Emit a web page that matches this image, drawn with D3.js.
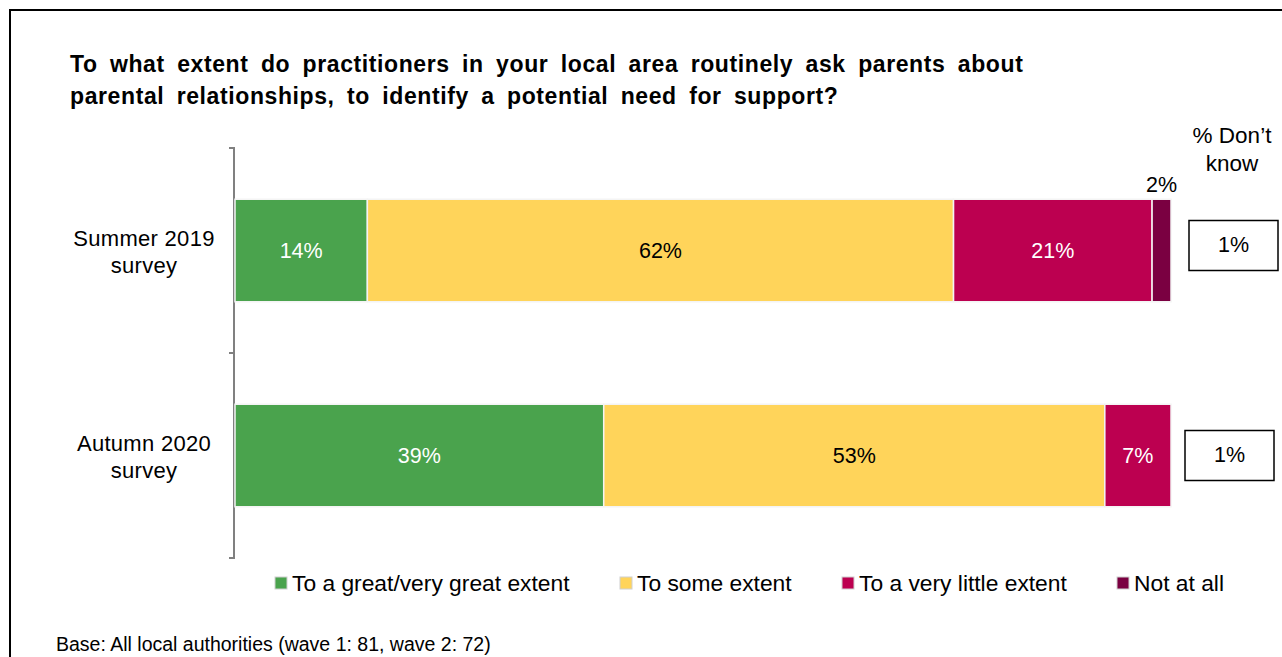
<!DOCTYPE html>
<html>
<head>
<meta charset="utf-8">
<script src="https://cdn.jsdelivr.net/npm/d3@7"></script>
<style>
  html, body { margin: 0; padding: 0; background: #fff; }
  svg { display: block; font-family: Arial, "Liberation Sans", sans-serif; }
</style>
</head>
<body>
<svg id="chart" width="1282" height="657"></svg>
<script>
// Survey waves (rows of the stacked bar)
const waves = ["Summer 2019 survey", "Autumn 2020 survey"];
const waveLines = [["Summer 2019", "survey"], ["Autumn 2020", "survey"]];

// Response categories, in stacking order
const responses = ["To a great/very great extent", "To some extent", "To a very little extent", "Not at all"];
const responseColors = ["#4aa34d", "#ffd45a", "#bc0050", "#7a0041"];
const labelColors = ["#fff", "#000", "#fff", "#000"];

// Percentages per wave, one array per response
const greatExtent = [14, 39];
const someExtent = [62, 53];
const veryLittle = [21, 7];
const notAtAll = [2, 0];

// Share answering "don't know", shown beside each bar
const dontKnow = [1, 1];

const title = [
  "To what extent do practitioners in your local area routinely ask parents about",
  "parental relationships, to identify a potential need for support?"
];
const baseNote = "Base: All local authorities (wave 1: 81, wave 2: 72)";

const svg = d3.select("#chart");

// Outer frame
svg.append("rect")
  .attr("x", 10).attr("y", 10)
  .attr("width", 1300).attr("height", 700)
  .attr("fill", "none").attr("stroke", "#000").attr("stroke-width", 2);

// Title
svg.append("g").selectAll("text").data(title).join("text")
  .attr("x", 70).attr("y", (d, i) => 72 + i * 32)
  .attr("font-size", 23).attr("font-weight", "bold").attr("fill", "#000")
  .attr("letter-spacing", 0.6).attr("word-spacing", 5.4)
  .text(d => d);

// Build stacked table
const table = waves.map((w, i) => ({
  wave: w,
  [responses[0]]: greatExtent[i],
  [responses[1]]: someExtent[i],
  [responses[2]]: veryLittle[i],
  [responses[3]]: notAtAll[i]
}));
const stack = d3.stack().keys(responses)(table);

const x = d3.scaleLinear().domain([0, 99]).range([235, 1171]);
const band = d3.scaleBand().domain(waves).range([148, 558]).paddingInner(0.5).paddingOuter(0.25);
const y = d3.scaleBand().domain(waves).range([148, 558]);

// Category axis on the left
const axis = d3.axisLeft(y).tickSize(0).tickFormat("");
const axisG = svg.append("g").attr("transform", "translate(234,0)").call(axis);
axisG.select(".domain").attr("stroke", "#808080").attr("stroke-width", 2).attr("d", "M-5,148H0V558H-5");
// Boundary ticks between categories
const boundaries = [148, ...waves.map(w => y(w) + y.bandwidth())];
axisG.selectAll("line.b").data(boundaries).join("line")
  .attr("class", "b")
  .attr("x1", -5).attr("x2", 0)
  .attr("y1", d => d).attr("y2", d => d)
  .attr("stroke", "#808080").attr("stroke-width", 2);

// Category labels
waves.forEach((w, i) => {
  const cy = band(w) + band.bandwidth() / 2;
  svg.append("text")
    .attr("x", 144).attr("y", cy - 5)
    .attr("text-anchor", "middle").attr("font-size", 22).attr("letter-spacing", 0.3).attr("fill", "#000")
    .selectAll("tspan").data(waveLines[i]).join("tspan")
    .attr("x", 144).attr("dy", (d, j) => j === 0 ? 0 : 27)
    .text(d => d);
});

// Bars
const layers = svg.append("g").selectAll("g").data(stack).join("g")
  .attr("fill", (d, i) => responseColors[i]);

layers.selectAll("rect").data(d => d).join("rect")
  .attr("x", d => x(d[0]))
  .attr("y", d => band(d.data.wave))
  .attr("width", d => x(d[1]) - x(d[0]))
  .attr("height", band.bandwidth())
  .attr("stroke", "#f4f4f4").attr("stroke-width", 1.5);

// Segment labels
stack.forEach((layer, k) => {
  layer.forEach(d => {
    const v = d[1] - d[0];
    if (v <= 0) return;
    const cx = (x(d[0]) + x(d[1])) / 2;
    const cy = band(d.data.wave) + band.bandwidth() / 2;
    if (v < 5) {
      svg.append("text")
        .attr("x", cx).attr("y", band(d.data.wave) - 7)
        .attr("text-anchor", "middle").attr("font-size", 21.5).attr("fill", "#000")
        .text(v + "%");
    } else {
      svg.append("text")
        .attr("x", cx).attr("y", cy + 7)
        .attr("text-anchor", "middle").attr("font-size", 21.5)
        .attr("fill", labelColors[k])
        .text(v + "%");
    }
  });
});

// "% Don't know" header
svg.append("text")
  .attr("x", 1232).attr("y", 143)
  .attr("text-anchor", "middle").attr("font-size", 22.5).attr("fill", "#000")
  .selectAll("tspan").data(["% Don’t", "know"]).join("tspan")
  .attr("x", 1232).attr("dy", (d, i) => i === 0 ? 0 : 28)
  .text(d => d);

// Don't know boxes
const boxX = [1189, 1185];
const boxShift = [-5, 0];
waves.forEach((w, i) => {
  const cy = band(w) + band.bandwidth() / 2 + boxShift[i];
  svg.append("rect")
    .attr("x", boxX[i]).attr("y", cy - 25)
    .attr("width", 89).attr("height", 50)
    .attr("fill", "#fff").attr("stroke", "#000").attr("stroke-width", 1.5);
  svg.append("text")
    .attr("x", boxX[i] + 44.5).attr("y", cy + 6)
    .attr("text-anchor", "middle").attr("font-size", 21.5).attr("fill", "#000")
    .text(dontKnow[i] + "%");
});

// Legend
const legendX = [275, 620, 842, 1117];
const legend = svg.append("g").selectAll("g").data(responses).join("g")
  .attr("transform", (d, i) => `translate(${legendX[i]},583)`);
legend.append("rect")
  .attr("x", 0).attr("y", -6).attr("width", 12).attr("height", 12)
  .attr("fill", (d, i) => responseColors[i])
  .attr("stroke", "#d0d0d0").attr("stroke-width", 1);
legend.append("text")
  .attr("x", 17).attr("y", 8)
  .attr("font-size", 22.8).attr("fill", "#000")
  .text(d => d);

// Base note
svg.append("text")
  .attr("x", 56).attr("y", 651)
  .attr("font-size", 19.5).attr("fill", "#000")
  .text(baseNote);
</script>
</body>
</html>
